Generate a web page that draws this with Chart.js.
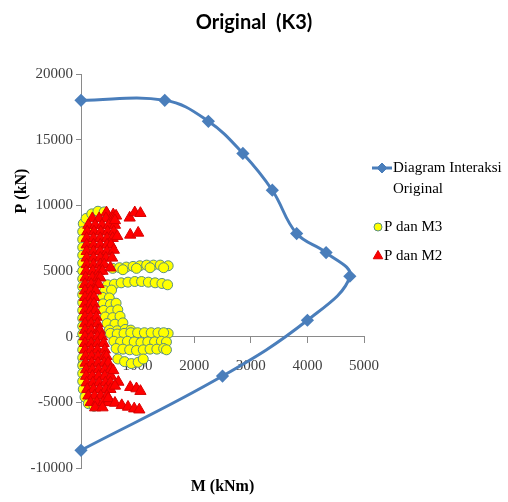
<!DOCTYPE html>
<html>
<head>
<meta charset="utf-8">
<title>Original (K3)</title>
<script src="https://cdn.jsdelivr.net/npm/chart.js@4.4.1/dist/chart.umd.min.js"></script>
<style>
  html, body { margin: 0; padding: 0; background: #ffffff; }
  #wrap { width: 508px; height: 502px; }
</style>
</head>
<body>
<div id="wrap"><canvas id="chart" width="508" height="502"></canvas></div>
<script>
// Interaction diagram of the original column section (M in kNm, P in kN)
const curveM = [0, 1480, 2250, 2860, 3380, 3810, 4330, 4750, 4000, 2500, 0];
const curveP = [18000, 18000, 16400, 13950, 11150, 7850, 6400, 4600, 1250, -3000, -8650];

// Load combinations: axial force with moment about axis 3
const m3Points = [
  [40,8600],[30,8000],[30,7400],[30,6800],[30,6200],[30,5600],[30,5000],[30,4400],[30,3800],[30,3200],
  [30,2600],[30,2000],[30,1400],[30,800],[30,200],[30,-400],[30,-1000],[30,-1600],[30,-2200],[30,-2800],
  [30,-3400],[40,-4000],[70,-4600],[130,-5100],[230,-5300],
  [90,9000],[190,9350],[300,9550],[410,9500],
  [150,8200],[150,7000],[150,5800],[150,4600],[150,3400],[150,2200],[150,1000],[150,-200],[150,-1400],
  [150,-2600],[150,-3800],[250,-4800],
  [560,5200],[680,5250],[800,5300],[920,5350],[1040,5400],[1160,5450],[1280,5450],[1400,5450],[1540,5400],
  [740,5100],[980,5200],[1220,5250],[1460,5250],
  [470,3950],[590,4000],[710,4100],[830,4150],[950,4200],[1070,4200],[1190,4150],[1310,4100],[1430,4050],[1530,3950],
  [420,3500],[540,3550],
  [380,3000],[500,2950],
  [390,2500],[520,2450],[620,2550],
  [400,2000],[530,1950],[650,2050],
  [430,1500],[560,1450],[690,1550],
  [460,1000],[600,950],[740,1050],
  [500,500],[640,450],[780,550],[880,500],
  [520,250],[640,200],[760,250],[880,300],[1000,300],[1120,300],[1240,300],[1360,300],[1540,250],[1460,300],
  [580,-350],[700,-400],[820,-350],[940,-400],[1060,-450],[1180,-400],[1300,-400],[1420,-350],[1510,-400],
  [620,-900],[740,-950],[860,-1000],[980,-1050],[1100,-1000],[1220,-950],[1340,-950],[1460,-900],[1510,-1000],
  [650,-1700],[770,-1900],[890,-2050],[1010,-1950],[1100,-1700]
];

// Load combinations: axial force with moment about axis 2
const m2Points = [
  [450,9450],[570,9300],
  [200,9000],[320,9000],[440,9000],[560,9000],
  [130,8500],[250,8500],[370,8500],[490,8500],[600,8500],
  [110,8000],[230,8000],[350,8000],[470,8000],[580,8000],
  [100,7500],[220,7500],[340,7500],[460,7500],[560,7500],
  [100,7000],[220,7000],[340,7000],[460,7000],[530,7000],
  [100,6500],[220,6500],[340,6500],[460,6500],
  [100,6000],[220,6000],[340,6000],[440,6000],
  [100,5500],[220,5500],[340,5500],[410,5500],
  [90,5000],[210,5000],[320,5000],[380,5000],
  [80,4500],[200,4500],[300,4500],[340,4500],
  [70,4000],[180,4000],[280,4000],[310,4000],
  [70,3500],[170,3500],[260,3500],
  [70,3000],[170,3000],[230,3000],
  [70,2500],[170,2500],[230,2500],
  [70,2000],[170,2000],[250,2000],
  [70,1500],[170,1500],[270,1500],
  [70,1000],[180,1000],[290,1000],
  [70,500],[180,500],[300,500],[330,500],
  [70,0],[180,0],[290,0],[370,0],
  [70,-500],[180,-500],[290,-500],[400,-500],
  [70,-1000],[180,-1000],[290,-1000],[420,-1000],
  [80,-1500],[190,-1500],[300,-1500],[410,-1500],[450,-1500],
  [80,-2000],[190,-2000],[300,-2000],[410,-2000],[480,-2000],
  [90,-2500],[200,-2500],[310,-2500],[420,-2500],[520,-2500],
  [90,-3000],[200,-3000],[310,-3000],[420,-3000],[530,-3000],
  [100,-3500],[210,-3500],[320,-3500],[430,-3500],[520,-3500],
  [110,-4000],[220,-4000],[330,-4000],[440,-4000],[520,-4000],
  [130,-4500],[240,-4500],[350,-4500],[460,-4500],
  [170,-5000],[280,-5000],[390,-5000],[480,-5000],
  [250,-5400],[380,-5400],
  [620,9200],[600,8850],[860,9050],[950,9450],[1050,9400],
  [640,7650],[870,7750],[1010,7900],
  [580,6600],[550,6000],[520,5250],
  [570,-2570],[660,-3450],[600,-3750],[870,-3850],[980,-3950],[1050,-4150],
  [480,-4700],[600,-5050],[720,-5230],[830,-5350],[940,-5480],[1030,-5560]
];

const xTicks = [0, 1000, 2000, 3000, 4000, 5000];
const yTicks = [-10000, -5000, 0, 5000, 10000, 15000, 20000];

const chartTitle = 'Original  (K3)';
const xTitle = 'M (kNm)';
const yTitle = 'P (kN)';
const legendLabels = [['Diagram Interaksi', 'Original'], ['P dan M3'], ['P dan M2']];

const serif = '"Liberation Serif", "Times New Roman", serif';
const blue = '#4A7EBB';

// Rotated vertical axis caption and the legend on the right-hand side
const sideTexts = {
  id: 'sideTexts',
  afterDraw(chart) {
    const ctx = chart.ctx;
    const ds = chart.data.datasets;
    ctx.save();

    ctx.translate(22, 191);
    ctx.rotate(-Math.PI / 2);
    ctx.font = 'bold 16px ' + serif;
    ctx.fillStyle = '#000';
    ctx.textAlign = 'center';
    ctx.textBaseline = 'middle';
    ctx.fillText(yTitle, 0, 0);
    ctx.setTransform(1, 0, 0, 1, 0, 0);

    const rows = [168, 227, 256];
    // curve sample: line with a diamond
    ctx.strokeStyle = ds[0].borderColor;
    ctx.lineWidth = 3;
    ctx.beginPath();
    ctx.moveTo(372, rows[0]);
    ctx.lineTo(392, rows[0]);
    ctx.stroke();
    ctx.fillStyle = ds[0].pointBackgroundColor;
    ctx.strokeStyle = ds[0].pointBorderColor;
    ctx.lineWidth = 1;
    Chart.helpers.drawPoint(ctx, {pointStyle: 'rectRot', radius: 5, borderWidth: 1, rotation: 0}, 382, rows[0]);

    ctx.fillStyle = ds[1].backgroundColor;
    ctx.strokeStyle = ds[1].borderColor;
    Chart.helpers.drawPoint(ctx, {pointStyle: 'circle', radius: 4, borderWidth: 1, rotation: 0}, 378, rows[1]);

    ctx.fillStyle = ds[2].backgroundColor;
    ctx.strokeStyle = ds[2].borderColor;
    Chart.helpers.drawPoint(ctx, {pointStyle: 'triangle', radius: 5.5, borderWidth: 1, rotation: 0}, 378, rows[2]);

    ctx.font = '15px ' + serif;
    ctx.fillStyle = '#000';
    ctx.textAlign = 'left';
    ctx.textBaseline = 'middle';
    ctx.fillText(legendLabels[0][0], 393, rows[0]);
    ctx.fillText(legendLabels[0][1], 393, rows[0] + 21);
    ctx.fillText(legendLabels[1][0], 384, rows[1]);
    ctx.fillText(legendLabels[2][0], 384, rows[2]);
    ctx.restore();
  }
};

const toXY = arr => arr.map(([x, y]) => ({x, y}));

new Chart(document.getElementById('chart'), {
  type: 'scatter',
  data: {
    datasets: [
      {
        label: legendLabels[0].join(' '),
        data: curveM.map((m, i) => ({x: m, y: curveP[i]})),
        showLine: true,
        tension: 0.4,
        borderColor: blue,
        borderWidth: 3,
        pointStyle: 'rectRot',
        pointRadius: 4.5,
        pointBackgroundColor: blue,
        pointBorderColor: blue,
        clip: false,
        order: 2
      },
      {
        label: legendLabels[1][0],
        data: toXY(m3Points),
        pointStyle: 'circle',
        pointRadius: 5,
        backgroundColor: '#FFFF00',
        borderColor: '#5A8E80',
        borderWidth: 1,
        clip: false,
        order: 1
      },
      {
        label: legendLabels[2][0],
        data: toXY(m2Points),
        pointStyle: 'triangle',
        pointRadius: 6.5,
        backgroundColor: '#FF0000',
        borderColor: '#D80000',
        borderWidth: 1,
        clip: false,
        order: 0
      }
    ]
  },
  options: {
    responsive: false,
    animation: false,
    devicePixelRatio: 1,
    events: [],
    layout: { padding: 0 },
    plugins: {
      legend: { display: false },
      tooltip: { enabled: false },
      title: {
        display: true,
        text: chartTitle,
        color: '#000',
        font: { family: 'Lato, "Open Sans", sans-serif', size: 20, weight: 'bold' },
        padding: { top: 11, bottom: 39 }
      }
    },
    scales: {
      x: {
        type: 'linear',
        min: 0,
        max: 5000,
        position: { y: 0 },
        afterBuildTicks: s => { s.ticks = xTicks.map(v => ({value: v})); },
        ticks: {
          callback: v => String(v),
          color: '#404040',
          font: { family: serif, size: 15 },
          padding: 14,
          maxRotation: 0
        },
        grid: { drawOnChartArea: false, drawTicks: true, tickLength: 6, color: '#8a8a8a' },
        border: { color: '#8a8a8a', width: 1 }
      },
      xt: {
        type: 'linear',
        min: 0,
        max: 5000,
        position: 'bottom',
        ticks: { display: false },
        grid: { display: false },
        border: { display: false },
        title: {
          display: true,
          text: xTitle,
          color: '#000',
          font: { family: serif, size: 16, weight: 'bold' },
          padding: { top: 0, bottom: 6 }
        },
        afterFit: s => { s.height = 34; }
      },
      y: {
        type: 'linear',
        min: -10000,
        max: 20000,
        position: 'left',
        afterBuildTicks: s => { s.ticks = yTicks.map(v => ({value: v})); },
        ticks: {
          callback: v => String(v),
          color: '#404040',
          font: { family: serif, size: 15 },
          padding: 3
        },
        grid: { drawOnChartArea: false, drawTicks: true, tickLength: 5, color: '#8a8a8a' },
        border: { color: '#8a8a8a', width: 1 },
        afterFit: s => { s.width = 81; }
      },
      // empty band on the right that holds the legend
      yr: {
        type: 'linear',
        axis: 'y',
        min: -10000,
        max: 20000,
        position: 'right',
        ticks: { display: false },
        grid: { display: false },
        border: { display: false },
        afterFit: s => { s.width = 144; }
      }
    }
  },
  plugins: [sideTexts]
});
</script>
</body>
</html>
